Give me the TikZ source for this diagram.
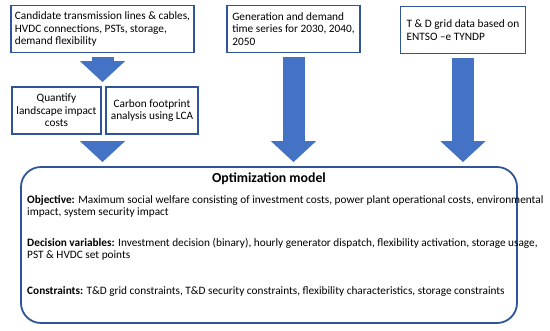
\documentclass[tikz,border=0pt]{standalone}
\usepackage{fontspec}
\setmainfont{Carlito}
\usepackage{xcolor}
\usetikzlibrary{arrows.meta,positioning}
\definecolor{boxblue}{HTML}{2F5597}
\definecolor{arrblue}{HTML}{4472C4}

\begin{document}
\begin{tikzpicture}[x=1pt, y=1pt,
  box/.style={draw=boxblue, line width=1.8pt, fill=white, inner xsep=4pt, inner ysep=2pt,
              minimum width=#1, minimum height=47pt, align=left,
              font=\fontsize{11.3}{12.5}\selectfont},
  box/.default=130pt,
  cbox/.style={box=#1, align=center},
  bigarr/.style={line width=22pt, arrblue,
                 -{Triangle[width=44pt, length=21pt]}, shorten <=4pt, shorten >=4pt},
  txt/.style={font=\fontsize{11.3}{12}\selectfont, align=left, inner sep=0pt, anchor=north west},
]
\useasboundingbox (0,0) rectangle (550,-330);
% Input boxes
\node[box=181pt] (cand)  at (102.5,-29)  {Candidate transmission lines \& cables,\\HVDC connections, PSTs, storage,\\demand flexibility};
\node[box=133pt] (gen)   at (293.5,-29)  {Generation and demand\\time series for 2030, 2040,\\2050};
\node[box=125pt] (grid)  at (463,-30)    {T \& D grid data based on\\ENTSO –e TYNDP};
\node[cbox=89pt] (quant) at (56.5,-110.5) {Quantify\\landscape impact\\costs};
\node[cbox=92pt] (carb)  at (152,-110.5) {Carbon footprint\\analysis using LCA};
% Optimization model
\node[draw=boxblue, line width=1.8pt, rounded corners=20pt,
      minimum width=496pt, minimum height=156pt] (model) at (269,-245) {};
\node[font=\fontsize{13.8}{16}\selectfont\bfseries, below=3pt of model.north] (title) {Optimization model};
\node[txt] (obj)  at (27,-195) {\textbf{Objective:} Maximum social welfare consisting of investment costs, power plant operational costs, environmental\\impact, system security impact};
\node[txt] (dec)  at (27,-238) {\textbf{Decision variables:} Investment decision (binary), hourly generator dispatch, flexibility activation, storage usage,\\PST \& HVDC set points};
\node[txt] (cons) at (27,-286) {\textbf{Constraints:} T\&D grid constraints, T\&D security constraints, flexibility characteristics, storage constraints};
% Arrows
\draw[bigarr] (cand.south) -- (cand.south |- quant.north);
\draw[bigarr, shorten <=8pt] (cand.south |- quant.south) -- (cand.south |- model.north);
\draw[bigarr] (gen.south)  -- (gen.south |- model.north);
\draw[bigarr] (grid.south) -- (grid.south |- model.north);
\end{tikzpicture}
\end{document}
